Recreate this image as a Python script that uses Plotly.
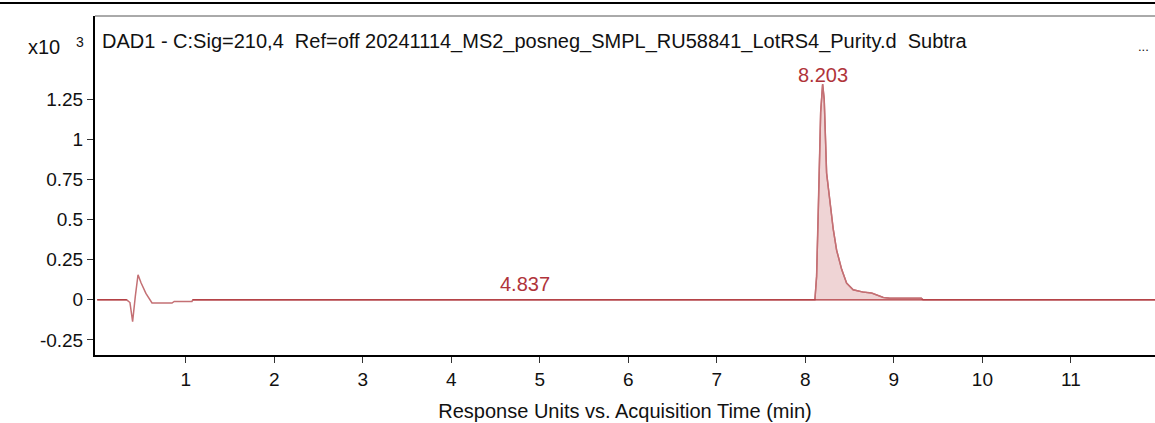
import plotly.graph_objects as go

# Signal (x10^3 response units) vs acquisition time (min)
time_min = [0.0, 0.333, 0.37, 0.40, 0.43, 0.461, 0.495, 0.55, 0.619, 0.845, 0.87, 1.07, 1.08,
            4.837, 8.108, 8.127, 8.146, 8.173, 8.195, 8.213, 8.24, 8.277, 8.315, 8.353, 8.41,
            8.466, 8.54, 8.654, 8.75, 8.88, 8.955, 9.31, 9.33, 11.95]
response = [0.0, 0.0, -0.017, -0.136, 0.02, 0.156, 0.106, 0.04, -0.02, -0.02, -0.01, -0.01, 0.0,
            0.0, 0.0, 0.146, 0.54, 1.17, 1.344, 1.25, 0.79, 0.625, 0.44, 0.31, 0.19,
            0.104, 0.0625, 0.048, 0.042, 0.015, 0.01, 0.01, 0.0, 0.0]

peak_start, peak_end = 8.108, 9.33
peak_labels = ["4.837", "8.203"]
peak_label_times = [4.837, 8.203]
peak_label_heights = [0.0, 1.344]
peak_label_shift = [3, -4]

baseline_time = [0.0, 0.333, None, 1.08, 11.95]
baseline_resp = [0.0, 0.0, None, 0.0, 0.0]

y_ticks = [-0.25, 0, 0.25, 0.5, 0.75, 1, 1.25]
y_tick_text = ["-0.25", "0", "0.25", "0.5", "0.75", "1", "1.25"]
x_ticks = list(range(1, 12))

title_text = "DAD1 - C:Sig=210,4  Ref=off 20241114_MS2_posneg_SMPL_RU58841_LotRS4_Purity.d  Subtra"

FONT = "Liberation Sans, Arial, sans-serif"
DARK_RED = "rgb(176,52,58)"
PINK = "rgb(196,112,116)"

fig = go.Figure()

pk_t = [t for t in time_min if peak_start <= t <= peak_end]
pk_r = [r for t, r in zip(time_min, response) if peak_start <= t <= peak_end]
fig.add_trace(go.Scatter(x=pk_t, y=pk_r, mode="lines", fill="tozeroy",
                         fillcolor="rgba(205,120,125,0.32)",
                         line=dict(color=PINK, width=1.4), hoverinfo="skip",
                         showlegend=False))
fig.add_trace(go.Scatter(x=time_min, y=response, mode="lines",
                         line=dict(color=PINK, width=1.5), showlegend=False))
fig.add_trace(go.Scatter(x=baseline_time, y=baseline_resp, mode="lines",
                         line=dict(color=DARK_RED, width=1.2), connectgaps=False,
                         showlegend=False))

for lbl, t, h, s in zip(peak_labels, peak_label_times, peak_label_heights, peak_label_shift):
    fig.add_annotation(x=t, y=h, text=lbl, showarrow=False, yanchor="bottom",
                       yshift=s, font=dict(family=FONT, size=20, color=DARK_RED))

fig.add_annotation(xref="paper", yref="paper", x=0.005, y=0.926, xanchor="left",
                   yanchor="middle", text=title_text, showarrow=False,
                   font=dict(family=FONT, size=20, color="#111"))
fig.add_annotation(xref="paper", yref="paper", x=0.9887, y=0.911, xanchor="center",
                   yanchor="middle", text="...", showarrow=False,
                   font=dict(family=FONT, size=13, color="#111"))
fig.add_annotation(xref="paper", yref="paper", x=-0.031, y=0.9086, xanchor="right",
                   yanchor="middle", text="x10", showarrow=False,
                   font=dict(family=FONT, size=20, color="#111"))
fig.add_annotation(xref="paper", yref="paper", x=-0.0142, y=0.923, xanchor="center",
                   yanchor="middle", text="3", showarrow=False,
                   font=dict(family=FONT, size=14, color="#111"))

# top rule and top frame line
fig.add_shape(type="line", xref="paper", yref="paper", x0=-0.1, x1=1.0, y0=1.038, y1=1.038,
              line=dict(color="black", width=2))
fig.add_shape(type="line", xref="paper", yref="paper", x0=0, x1=1.0, y0=1.0, y1=1.0,
              line=dict(color="#555", width=1))

fig.update_layout(
    width=1155, height=423,
    margin=dict(l=95, r=0, t=16, b=68),
    paper_bgcolor="white", plot_bgcolor="white",
    font=dict(family=FONT, size=19, color="#111"),
    xaxis=dict(range=[-0.025, 11.95], tickvals=x_ticks, ticks="outside", ticklen=6,
               tickcolor="#333", tickwidth=1, showgrid=False, zeroline=False,
               showline=True, linecolor="black", linewidth=2, automargin=False,
               title=dict(text="Response Units vs. Acquisition Time (min)",
                          font=dict(family=FONT, size=20), standoff=15),
               tickfont=dict(family=FONT, size=19)),
    yaxis=dict(range=[-0.344, 1.769], tickvals=y_ticks, ticktext=y_tick_text,
               ticks="outside", ticklen=6, tickcolor="#333", tickwidth=1,
               showgrid=False, zeroline=False, showline=True, linecolor="black",
               linewidth=2, automargin=False, tickfont=dict(family=FONT, size=19)),
)

fig.write_html(
    "out.html",
    config={"displayModeBar": False},
    post_script="document.documentElement.style.overflow='hidden';"
                "document.body.style.margin='0';document.body.style.overflow='hidden';",
)
